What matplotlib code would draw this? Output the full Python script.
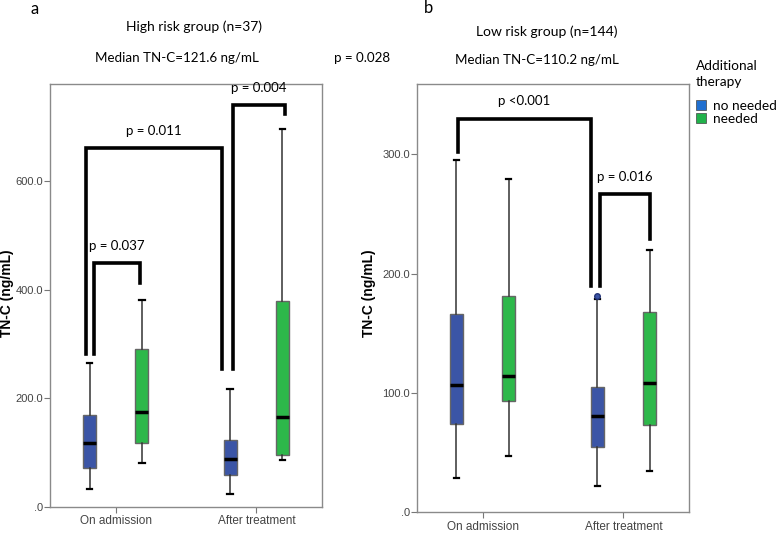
import matplotlib.pyplot as plt
from matplotlib.patches import Patch

# box statistics (ng/mL)
groups = ["On admission", "After treatment"]
series = ["no needed", "needed"]

# panel a, high risk group: [on admission, after treatment]
a_no_lo = [34, 23]
a_no_q1 = [72, 58]
a_no_med = [118, 88]
a_no_q3 = [170, 124]
a_no_hi = [265, 217]
a_yes_lo = [81, 86]
a_yes_q1 = [117, 96]
a_yes_med = [175, 166]
a_yes_q3 = [290, 378]
a_yes_hi = [380, 696]

# panel b, low risk group
b_no_lo = [29, 22]
b_no_q1 = [74, 55]
b_no_med = [107, 81]
b_no_q3 = [166, 105]
b_no_hi = [295, 179]
b_no_fliers = [[], [181]]
b_yes_lo = [47, 35]
b_yes_q1 = [93, 73]
b_yes_med = [114, 108]
b_yes_q3 = [181, 168]
b_yes_hi = [279, 220]

# significance brackets: x left, x right, y top, y left end, y right end, label
a_brackets = [
    (-0.153, 0.173, 448, 281, 412, "p = 0.037"),
    (-0.212, 0.755, 660, 281, 253, "p = 0.011"),
    (0.834, 1.207, 739, 253, 722, "p = 0.004"),
]
b_brackets = [
    (-0.175, 0.771, 330, 302, 190, "p <0.001"),
    (0.83, 1.189, 267, 190, 229, "p = 0.016"),
]

blue = "#3b55a6"
green = "#2db84a"
W, H = 778, 539

fig = plt.figure(figsize=(W / 100, H / 100), dpi=100)
ax1 = fig.add_axes([50 / W, 1 - 507 / H, 272 / W, 423 / H])
ax2 = fig.add_axes([416.7 / W, 1 - 512.3 / H, 272.6 / W, 428.3 / H])

tick_font = ["Liberation Sans", "DejaVu Sans"]
title_font = ["Lato", "DejaVu Sans"]


def stats(lo, q1, med, q3, hi, fl=None):
    out = []
    for i in range(len(lo)):
        out.append({"whislo": lo[i], "q1": q1[i], "med": med[i], "q3": q3[i],
                    "whishi": hi[i], "fliers": fl[i] if fl else []})
    return out


def draw(ax, no_stats, yes_stats, brackets, ylim, yticks):
    off = 0.185
    for st, col, d in [(no_stats, blue, -off), (yes_stats, green, off)]:
        pos = [i + d for i in range(len(groups))]
        ax.bxp(st, positions=pos, widths=0.095, patch_artist=True, showfliers=True,
               boxprops=dict(facecolor=col, edgecolor="#666666", linewidth=1),
               medianprops=dict(color="black", linewidth=2.5),
               whiskerprops=dict(color="#333333", linewidth=1.1),
               capprops=dict(color="black", linewidth=1.6),
               capwidths=0.04,
               flierprops=dict(marker="o", markersize=4, markerfacecolor=blue,
                               markeredgecolor="#223377"))
    for x0, x1, yt, y0, y1, lab in brackets:
        ax.plot([x0, x0, x1, x1], [y0, yt, yt, y1], color="black", lw=2.6,
                solid_joinstyle="miter", clip_on=False)
        ax.text((x0 + x1) / 2, yt + ylim * 0.026, lab, ha="center", va="bottom",
                fontsize=9.5, family=title_font)
    ax.set_xlim(-0.467, 1.467)
    ax.set_ylim(0, ylim)
    ax.set_xticks(range(len(groups)))
    ax.set_xticklabels(groups)
    ax.set_yticks(yticks)
    ax.set_yticklabels([".0"] + ["%.1f" % v for v in yticks[1:]])
    for lab in ax.get_xticklabels():
        lab.set_family(tick_font)
        lab.set_fontsize(8.5)
        lab.set_color("#444444")
    for lab in ax.get_yticklabels():
        lab.set_family(tick_font)
        lab.set_fontsize(8)
        lab.set_color("#444444")
    ax.tick_params(direction="out", length=4, color="#777777", pad=2)
    ax.tick_params(axis="y", pad=1)
    for sp in ax.spines.values():
        sp.set_color("#8a8a8a")
        sp.set_linewidth(1)


draw(ax1, stats(a_no_lo, a_no_q1, a_no_med, a_no_q3, a_no_hi),
     stats(a_yes_lo, a_yes_q1, a_yes_med, a_yes_q3, a_yes_hi),
     a_brackets, 778, [0, 200, 400, 600])
draw(ax2, stats(b_no_lo, b_no_q1, b_no_med, b_no_q3, b_no_hi, b_no_fliers),
     stats(b_yes_lo, b_yes_q1, b_yes_med, b_yes_q3, b_yes_hi),
     b_brackets, 359, [0, 100, 200, 300])

# y labels
fig.text(7 / W, 1 - 293 / H, "TN-C (ng/mL)", rotation=90, ha="center", va="center",
         fontsize=10, fontweight="bold", family=["Liberation Sans", "DejaVu Sans"])
fig.text(369 / W, 1 - 293 / H, "TN-C (ng/mL)", rotation=90, ha="center", va="center",
         fontsize=10, fontweight="bold", family=["Liberation Sans", "DejaVu Sans"])

# panel headings
fig.text(35 / W, 1 - 9 / H, "a", ha="center", va="center", fontsize=12, family=title_font)
fig.text(429 / W, 1 - 8 / H, "b", ha="center", va="center", fontsize=12, family=title_font)
fig.text(194 / W, 1 - 27 / H, "High risk group (n=37)", ha="center", va="center",
         fontsize=10, family=title_font)
fig.text(177 / W, 1 - 58 / H, "Median TN-C=121.6 ng/mL", ha="center", va="center",
         fontsize=9.6, family=title_font)
fig.text(362 / W, 1 - 58 / H, "p = 0.028", ha="center", va="center",
         fontsize=9.6, family=title_font)
fig.text(547 / W, 1 - 32 / H, "Low risk group (n=144)", ha="center", va="center",
         fontsize=10, family=title_font)
fig.text(537 / W, 1 - 60 / H, "Median TN-C=110.2 ng/mL", ha="center", va="center",
         fontsize=9.6, family=title_font)

handles = [Patch(facecolor="#1f6fd0", edgecolor="#444444", lw=0.5, label=series[0]),
           Patch(facecolor="#21b24b", edgecolor="#444444", lw=0.5, label=series[1])]
leg = fig.legend(handles=handles, title="Additional\ntherapy", loc="upper left",
                 bbox_to_anchor=(696 / W, 1 - 60 / H), frameon=False,
                 handlelength=0.75, handleheight=0.75, handletextpad=0.5,
                 labelspacing=0.1, borderaxespad=0, borderpad=0,
                 prop={"family": title_font, "size": 9.8},
                 title_fontproperties={"family": title_font, "size": 9.8})
leg.get_title().set_linespacing(1.45)
leg._legend_box.align = "left"
leg._legend_box.sep = 8

fig.savefig("out.png", dpi=100)
